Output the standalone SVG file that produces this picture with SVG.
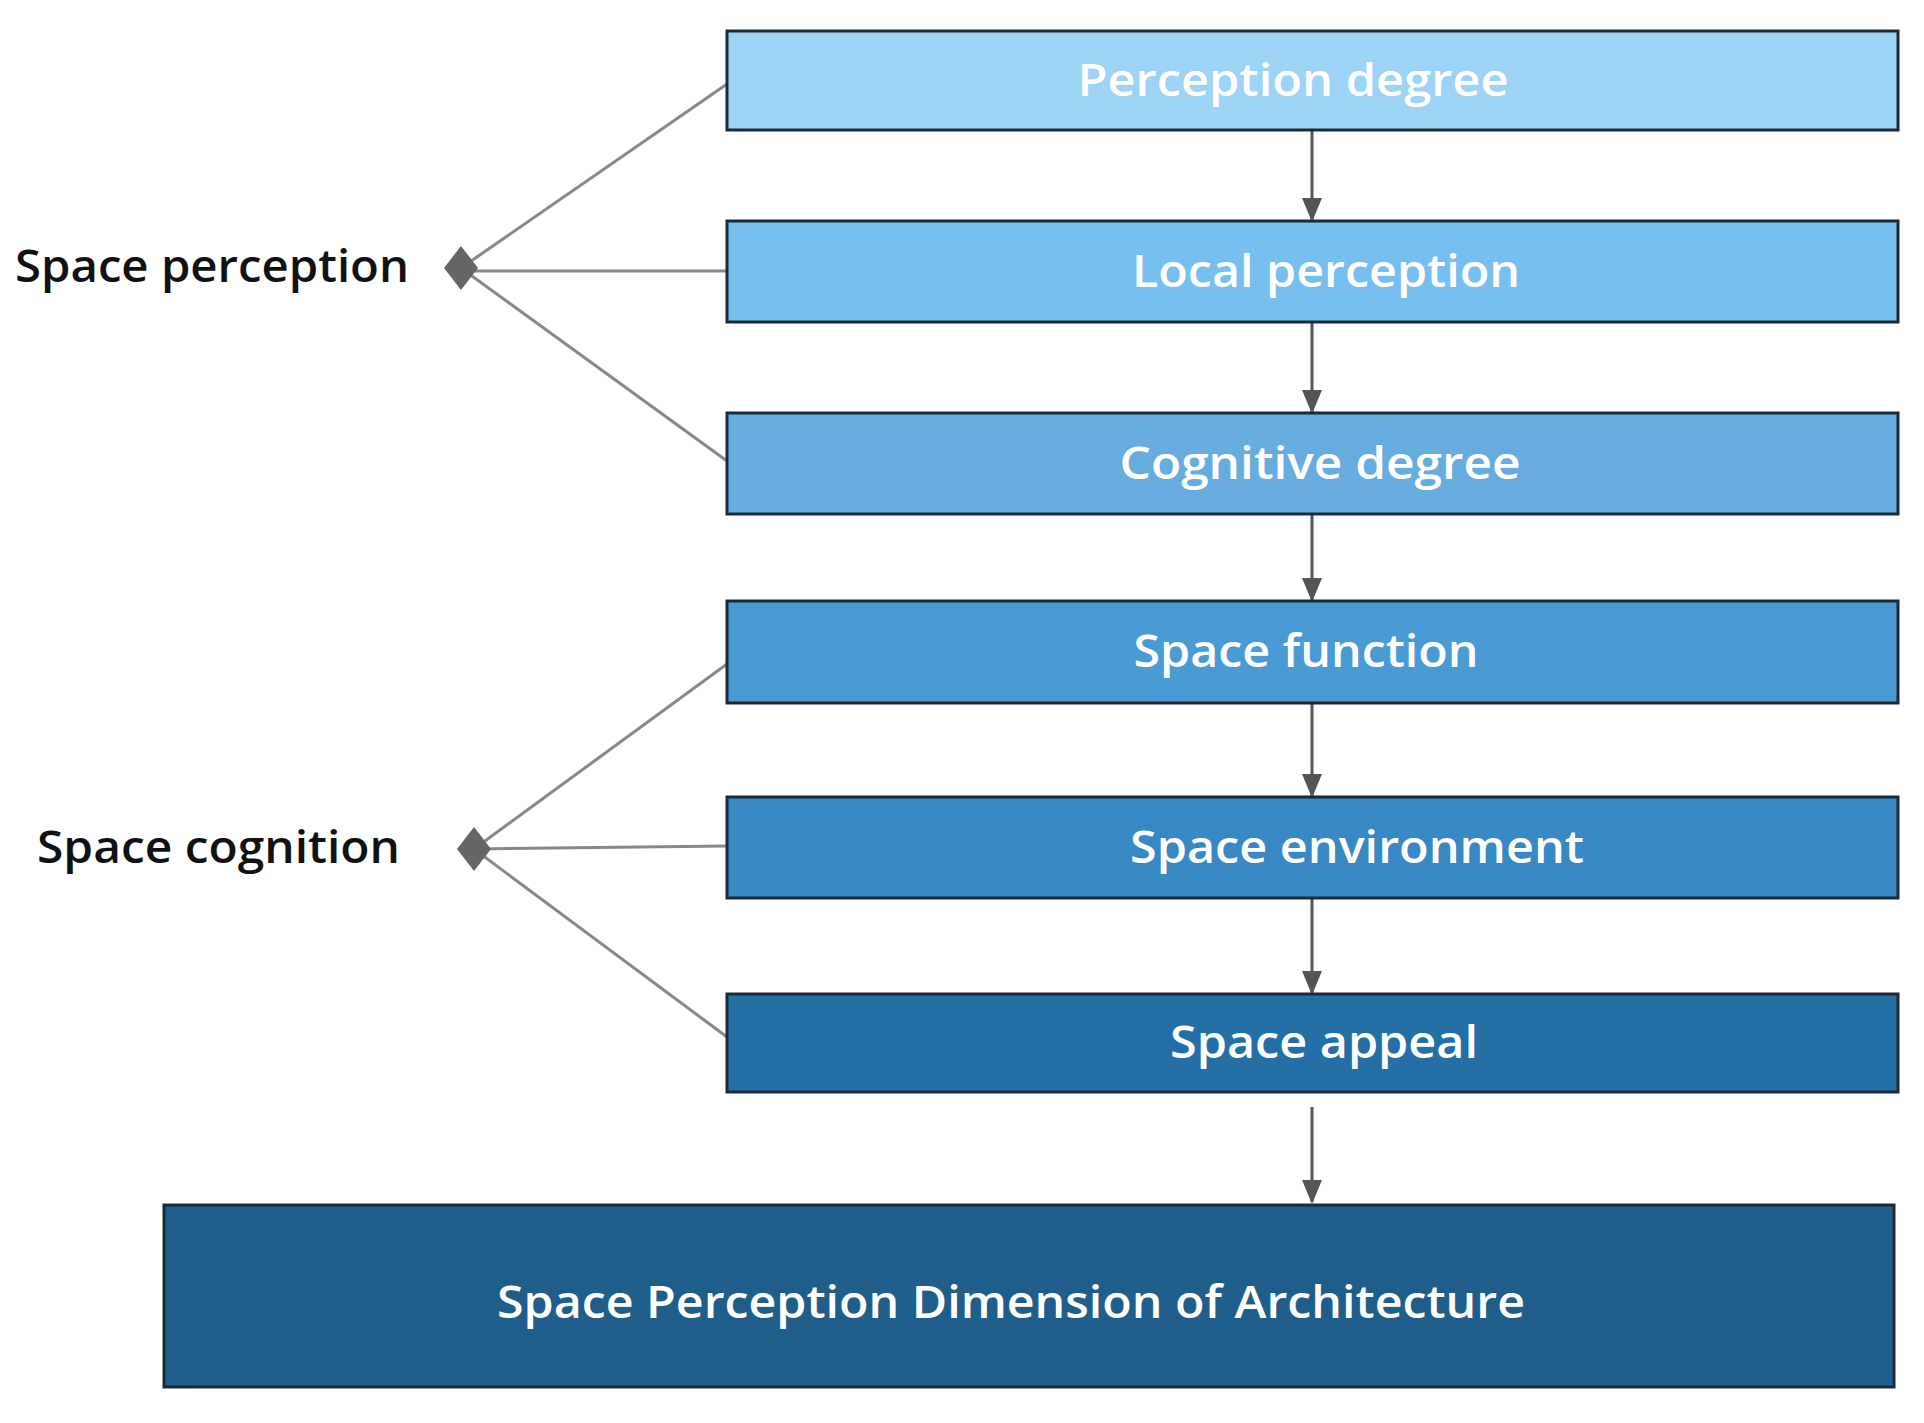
<svg xmlns="http://www.w3.org/2000/svg" width="1924" height="1423" viewBox="0 0 1924 1423">
<style>
.box{stroke:#1c2a38;stroke-width:3}
.t{fill:#fff;font-family:"Open Sans","Liberation Sans",sans-serif;font-size:46px;font-weight:600}
.l{fill:#111;font-family:"Open Sans","Liberation Sans",sans-serif;font-size:46px;font-weight:600}
.c{stroke:#888;stroke-width:3;fill:none}
.a{stroke:#555;stroke-width:3;fill:none;marker-end:url(#ah)}
</style>
<defs><marker id="ah" markerWidth="10" markerHeight="10" refX="9" refY="5" orient="auto" markerUnits="userSpaceOnUse" viewBox="0 0 10 10"><path d="M0,0 L10,5 L0,10 Z" fill="#555" transform="scale(1)"/></marker>
<marker id="ah2" viewBox="0 0 24 24" refX="22" refY="12" markerWidth="24" markerHeight="24" markerUnits="userSpaceOnUse" orient="auto"><path d="M0,2 L24,12 L0,22 Z" fill="#555"/></marker></defs>
<rect width="1924" height="1423" fill="#fff"/>
<g id="connectors">
<line class="c" x1="461" y1="268" x2="727" y2="84"/>
<line class="c" x1="461" y1="271" x2="727" y2="271"/>
<line class="c" x1="461" y1="268" x2="727" y2="461"/>
<line class="c" x1="474" y1="849" x2="727" y2="664"/>
<line class="c" x1="474" y1="849" x2="727" y2="846"/>
<line class="c" x1="474" y1="849" x2="727" y2="1037"/>
<polygon points="461,246 478,268 461,290 444,268" fill="#666"/>
<polygon points="474,827 491,849 474,871 457,849" fill="#666"/>
<g stroke="#555" stroke-width="3" style="marker-end:url(#ah2)">
<line x1="1312" y1="131" x2="1312" y2="220"/>
<line x1="1312" y1="323" x2="1312" y2="412"/>
<line x1="1312" y1="515" x2="1312" y2="600"/>
<line x1="1312" y1="704" x2="1312" y2="796"/>
<line x1="1312" y1="899" x2="1312" y2="993"/>
<line x1="1312" y1="1107" x2="1312" y2="1202"/>
</g>
</g>
<g id="n1"><rect class="box" x="727" y="31" width="1171" height="99" fill="#9dd3f5"/><text class="t" x="1293" y="96" text-anchor="middle" textLength="431" lengthAdjust="spacingAndGlyphs">Perception degree</text></g>
<g id="n2"><rect class="box" x="727" y="221" width="1171" height="101" fill="#76bfee"/><text class="t" x="1326" y="287" text-anchor="middle" textLength="388" lengthAdjust="spacingAndGlyphs">Local perception</text></g>
<g id="n3"><rect class="box" x="727" y="413" width="1171" height="101" fill="#67acdf"/><text class="t" x="1320" y="479" text-anchor="middle" textLength="401" lengthAdjust="spacingAndGlyphs">Cognitive degree</text></g>
<g id="n4"><rect class="box" x="727" y="601" width="1171" height="102" fill="#4a9ad3"/><text class="t" x="1306" y="667" text-anchor="middle" textLength="345" lengthAdjust="spacingAndGlyphs">Space function</text></g>
<g id="n5"><rect class="box" x="727" y="797" width="1171" height="101" fill="#3888c4"/><text class="t" x="1357" y="863" text-anchor="middle" textLength="454" lengthAdjust="spacingAndGlyphs">Space environment</text></g>
<g id="n6"><rect class="box" x="727" y="994" width="1171" height="98" fill="#2470a6"/><text class="t" x="1324" y="1058" text-anchor="middle" textLength="308" lengthAdjust="spacingAndGlyphs">Space appeal</text></g>
<g id="n7"><rect class="box" x="164" y="1205" width="1730" height="182" fill="#1f5e8a" stroke="#2a2038"/><text class="t" x="1011" y="1318" text-anchor="middle" textLength="1028" lengthAdjust="spacingAndGlyphs">Space Perception Dimension of Architecture</text></g>
<g id="l1"><text class="l" x="15" y="282" textLength="394" lengthAdjust="spacingAndGlyphs">Space perception</text></g>
<g id="l2"><text class="l" x="37" y="863" textLength="363" lengthAdjust="spacingAndGlyphs">Space cognition</text></g>
</svg>
